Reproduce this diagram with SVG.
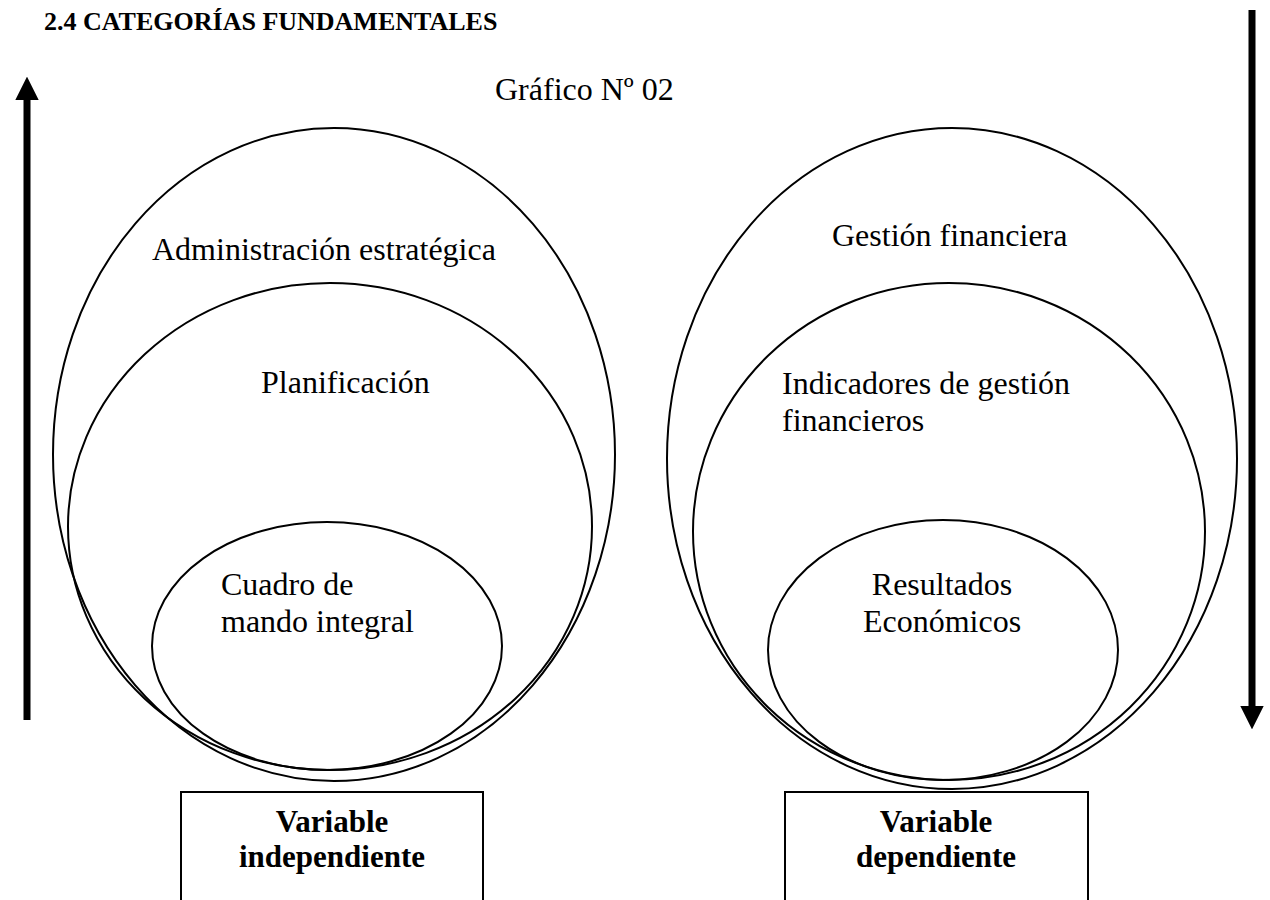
<svg xmlns="http://www.w3.org/2000/svg" width="1270" height="900" viewBox="0 0 1270 900">
  <style>
    .bg { fill: #ffffff; }
    .ring { fill: none; stroke: #000; stroke-width: 2; }
    .box { fill: #ffffff; stroke: #000; stroke-width: 2; }
    .label { font-family: "Liberation Serif", "Times New Roman", serif; font-size: 32px; fill: #000; }
    .mid { text-anchor: middle; }
    .boxtext { font-family: "Liberation Serif", "Times New Roman", serif; font-size: 31px; font-weight: bold; fill: #000; text-anchor: middle; }
    .title { font-family: "Liberation Serif", "Times New Roman", serif; font-size: 26px; font-weight: bold; fill: #000; }
    .shaft { stroke: #000; stroke-width: 7; fill: none; }
  </style>
  <defs>
    <marker id="head" viewBox="0 0 10 10" refX="1" refY="5" markerWidth="3.4" markerHeight="3.4" markerUnits="strokeWidth" orient="auto">
      <path d="M0,0 L10,5 L0,10 Z" fill="#000"/>
    </marker>
  </defs>

  <rect class="bg" x="0" y="0" width="1270" height="900"/>

  <text class="title" x="44" y="30">2.4 CATEGORÍAS FUNDAMENTALES</text>
  <text class="label" x="495" y="100">Gráfico Nº 02</text>

  <!-- direction arrows -->
  <g id="connectors">
    <line class="shaft" x1="27" y1="720" x2="27" y2="98" marker-end="url(#head)"/>
    <line class="shaft" x1="1252" y1="10" x2="1252" y2="708" marker-end="url(#head)"/>
  </g>

  <!-- independent variable nest -->
  <g id="admin-estrategica">
    <ellipse class="ring" cx="334" cy="454.5" rx="281" ry="326.5"/>
    <text class="label" x="152" y="260">Administración estratégica</text>
  </g>
  <g id="planificacion">
    <ellipse class="ring" cx="330" cy="526.5" rx="262" ry="243.5"/>
    <text class="label" x="261" y="393">Planificación</text>
  </g>
  <g id="cuadro-mando">
    <ellipse class="ring" cx="327" cy="646" rx="175" ry="124"/>
    <text class="label" x="221" y="595">Cuadro de</text>
    <text class="label" x="221" y="632">mando integral</text>
  </g>

  <!-- dependent variable nest -->
  <g id="gestion-financiera">
    <ellipse class="ring" cx="952" cy="458.5" rx="285" ry="330.5"/>
    <text class="label" x="832" y="246">Gestión financiera</text>
  </g>
  <g id="indicadores">
    <ellipse class="ring" cx="949" cy="531.5" rx="256" ry="248.5"/>
    <text class="label" x="782" y="394">Indicadores de gestión</text>
    <text class="label" x="782" y="431">financieros</text>
  </g>
  <g id="resultados">
    <ellipse class="ring" cx="943" cy="650" rx="175" ry="130"/>
    <text class="label mid" x="942" y="595">Resultados</text>
    <text class="label mid" x="942" y="632">Económicos</text>
  </g>

  <g id="var-independiente">
    <rect class="box" x="181" y="792" width="302" height="130"/>
    <text class="boxtext" x="332" y="832">Variable</text>
    <text class="boxtext" x="332" y="867">independiente</text>
  </g>
  <g id="var-dependiente">
    <rect class="box" x="785" y="792" width="303" height="130"/>
    <text class="boxtext" x="936" y="832">Variable</text>
    <text class="boxtext" x="936" y="867">dependiente</text>
  </g>
</svg>
